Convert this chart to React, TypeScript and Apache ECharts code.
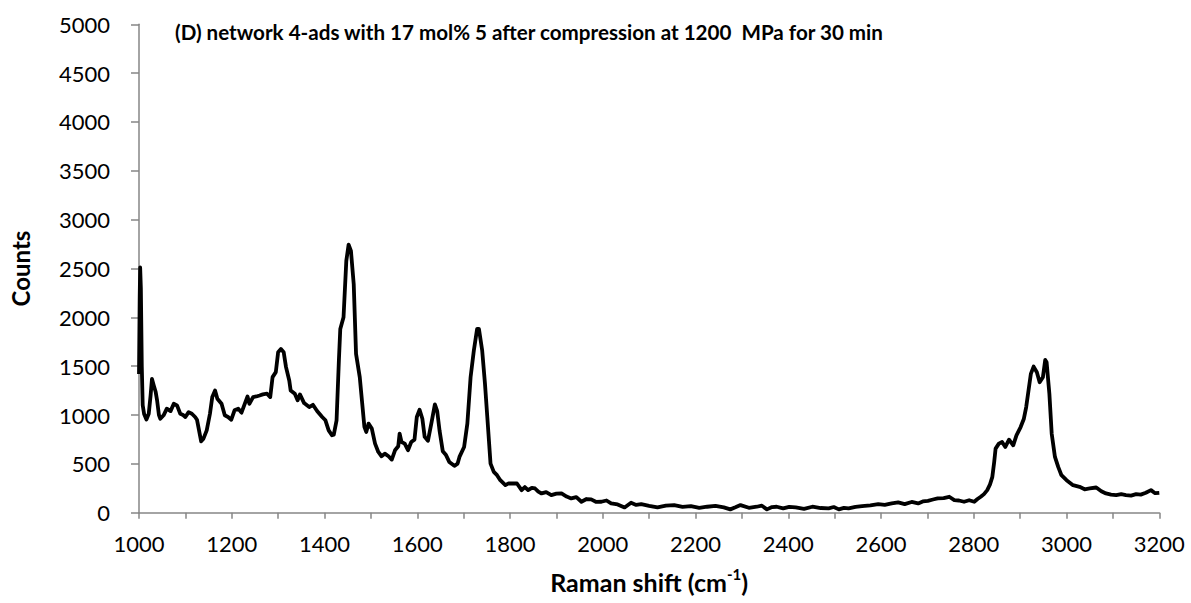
import React, { useEffect, useRef } from "react";
import * as echarts from "echarts";

const ramanShift = [
  1000, 1001.5, 1002.5, 1004, 1006, 1008, 1011, 1016, 1021, 1025, 1028, 1032, 1036, 1039, 1043, 1046, 1053, 1060, 1068, 1075,
  1082, 1089, 1095, 1100, 1107, 1114, 1121, 1125, 1128, 1134, 1139, 1146, 1153, 1158, 1164, 1169, 1178, 1185, 1192, 1199,
  1206, 1214, 1221, 1228, 1234, 1238, 1246, 1253, 1260, 1267, 1276, 1283, 1288, 1295, 1300, 1306, 1312, 1317, 1324, 1327,
  1336, 1342, 1347, 1356, 1367, 1375, 1384, 1395, 1402, 1409, 1416, 1420, 1426, 1431, 1434, 1441, 1447, 1452, 1457, 1463,
  1468, 1476, 1481, 1486, 1490, 1495, 1502, 1509, 1516, 1523, 1530, 1538, 1545, 1552, 1559, 1562, 1566, 1573, 1580, 1587,
  1594, 1599, 1605, 1611, 1616, 1623, 1631, 1638, 1643, 1648, 1655, 1662, 1669, 1680, 1687, 1691, 1701, 1708, 1715, 1722,
  1729, 1733, 1740, 1746, 1751, 1758, 1765, 1772, 1779, 1790, 1797, 1804, 1815, 1825, 1832, 1839, 1847, 1854, 1861, 1868,
  1878, 1889, 1900, 1911, 1922, 1932, 1943, 1954, 1965, 1975, 1986, 1997, 2008, 2018, 2032, 2047, 2061, 2072, 2083, 2100,
  2118, 2136, 2154, 2172, 2190, 2208, 2225, 2243, 2261, 2275, 2286, 2297, 2315, 2332, 2343, 2354, 2365, 2375, 2389, 2402,
  2416, 2434, 2452, 2470, 2487, 2498, 2509, 2520, 2530, 2545, 2559, 2577, 2594, 2608, 2623, 2637, 2651, 2666, 2680, 2690,
  2701, 2712, 2722, 2735, 2747, 2758, 2768, 2779, 2790, 2801, 2808, 2815, 2822, 2829, 2835, 2840, 2844, 2847, 2854, 2861,
  2868, 2876, 2885, 2892, 2901, 2908, 2913, 2918, 2923, 2929, 2936, 2942, 2949, 2954, 2957, 2963, 2968, 2975, 2982, 2989,
  3000, 3014, 3028, 3039, 3050, 3064, 3075, 3085, 3096, 3107, 3118, 3128, 3139, 3150, 3160, 3171, 3182, 3191, 3200,
];

const counts = [
  1420, 2200, 2510, 2300, 1500, 1100, 1010, 955, 1013, 1200, 1370, 1300, 1235, 1150, 1000, 962, 997, 1065, 1040, 1115,
  1099, 1013, 1000, 980, 1030, 1013, 980, 952, 878, 731, 758, 843, 1013, 1184, 1252, 1167, 1115, 997, 980, 952,
  1048, 1065, 1024, 1115, 1190, 1115, 1184, 1190, 1200, 1211, 1218, 1184, 1388, 1439, 1643, 1677, 1643, 1490, 1354, 1252,
  1218, 1150, 1211, 1122, 1082, 1105, 1041, 980, 946, 843, 793, 799, 946, 1558, 1881, 2000, 2578, 2745, 2680, 2340,
  1626, 1388, 1133, 878, 827, 912, 861, 707, 622, 578, 605, 578, 544, 639, 680, 810, 724, 707, 639, 724,
  748, 980, 1054, 962, 776, 736, 930, 1109, 1040, 843, 630, 590, 520, 480, 503, 571, 673, 912, 1388, 1660,
  1881, 1881, 1660, 1320, 980, 503, 418, 384, 333, 282, 300, 299, 299, 231, 262, 231, 255, 248, 215, 197,
  210, 180, 195, 197, 165, 146, 160, 112, 140, 136, 110, 112, 125, 95, 85, 54, 102, 80, 88, 70,
  54, 72, 78, 60, 68, 50, 61, 70, 54, 34, 55, 78, 50, 61, 72, 34, 58, 61, 44, 60,
  54, 40, 61, 48, 44, 58, 34, 50, 44, 60, 68, 75, 88, 80, 95, 105, 88, 110, 95, 115,
  122, 135, 146, 150, 163, 129, 125, 112, 128, 112, 140, 163, 190, 231, 290, 367, 520, 656, 707, 724,
  673, 748, 690, 792, 877, 962, 1081, 1251, 1421, 1496, 1438, 1336, 1387, 1564, 1540, 1217, 809, 571, 469, 384,
  333, 282, 265, 240, 248, 258, 220, 197, 185, 180, 190, 180, 175, 190, 185, 204, 231, 200, 204,
];

const xTicks = [1000, 3200, 100];
const yTicks = [0, 5000, 500];

const titleText = "(D) network 4-ads with 17 mol% 5 after compression at 1200  MPa for 30 min";

export default function App() {
  const ref = useRef<HTMLDivElement>(null);
  useEffect(() => {
    if (!ref.current) return;
    const chart = echarts.init(ref.current, undefined, { renderer: "svg" });
    const axisColor = "#868686";
    const font = "Lato";
    chart.setOption({
      animation: false,
      backgroundColor: "#ffffff",
      grid: { left: 130, right: 31.7, top: 24.3, bottom: 90.3, containLabel: false },
      graphic: [
        {
          type: "text",
          left: 175,
          top: 21,
          style: {
            text: titleText,
            fontFamily: font,
            fontWeight: "bold",
            fontSize: 20.6,
            fill: "#000000",
          },
        },
      ],
      xAxis: {
        type: "value",
        min: xTicks[0],
        max: xTicks[1],
        interval: xTicks[2],
        name: "{a|Raman shift (cm}{s|-1}{a|)}",
        nameLocation: "middle",
        nameGap: 54,
        nameTextStyle: {
          rich: {
            a: { fontFamily: font, fontWeight: "bold", fontSize: 25, color: "#000", lineHeight: 30 },
            s: { fontFamily: font, fontWeight: "bold", fontSize: 15, color: "#000", verticalAlign: "top", lineHeight: 30, padding: [0, 0, 12, 0] },
          },
        },
        axisLine: { show: true, lineStyle: { color: axisColor, width: 1.5 } },
        axisTick: { show: true, length: 6, inside: false, lineStyle: { color: axisColor, width: 1.5 } },
        splitLine: { show: false },
        axisLabel: {
          margin: 20,
          fontFamily: font,
          fontSize: 22,
          color: "#000",
          formatter: (v: number) => (v % 200 === 0 ? String(v) : ""),
        },
      },
      yAxis: {
        type: "value",
        min: yTicks[0],
        max: yTicks[1],
        interval: yTicks[2],
        name: "Counts",
        nameLocation: "middle",
        nameGap: 107,
        nameTextStyle: { fontFamily: font, fontWeight: "bold", fontSize: 24, color: "#000" },
        axisLine: { show: true, lineStyle: { color: axisColor, width: 1.5 } },
        axisTick: { show: true, length: 8, inside: false, lineStyle: { color: axisColor, width: 1.5 } },
        splitLine: { show: false },
        axisLabel: { margin: 29, fontFamily: font, fontSize: 22, color: "#000", formatter: (v: number) => String(v) },
      },
      series: [
        {
          type: "line",
          data: ramanShift.map((x, i) => [x, counts[i]]),
          showSymbol: false,
          symbol: "none",
          lineStyle: { color: "#000000", width: 3.8, join: "round" },
          clip: true,
        },
      ],
    });
    return () => chart.dispose();
  }, []);
  return <div ref={ref} style={{ position: "fixed", left: 0, top: 0, width: 1191, height: 603 }} />;
}
